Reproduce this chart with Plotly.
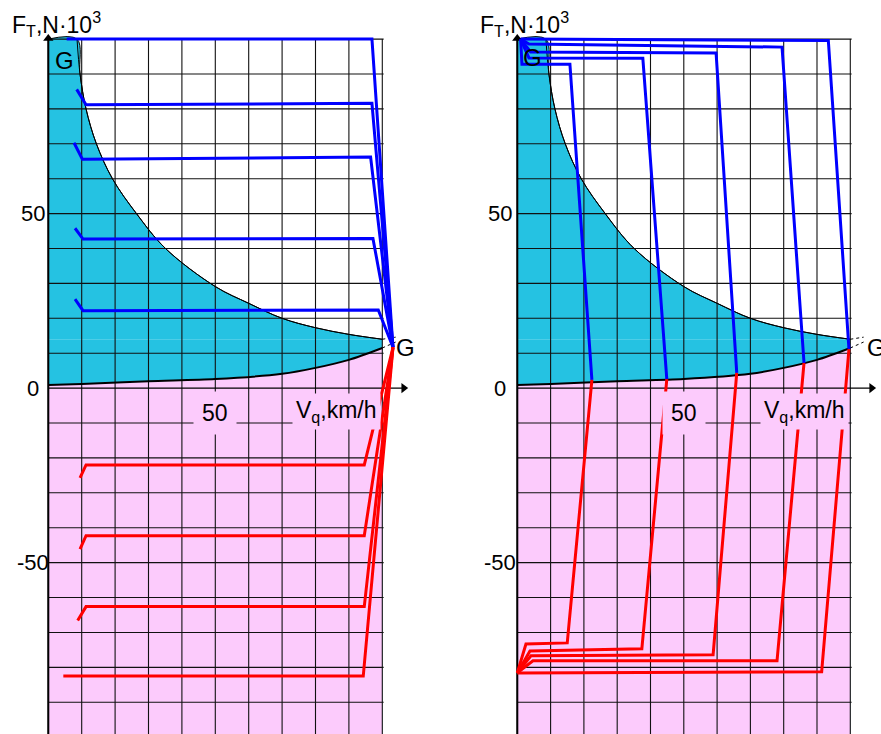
import plotly.graph_objects as go

# ---------------- data (v in km/h, F in N*10^3) ----------------
# traction limit curve (upper boundary of cyan zone)
upper_v = [8.6, 9.5, 11.3, 14.4, 19.2, 26.4, 35.1, 50.0, 60.0, 70.0, 80.0, 90.0, 100.0]
upper_F = [100.0, 90.0, 80.0, 70.0, 60.0, 50.0, 40.0, 29.1, 24.3, 20.0, 17.3, 15.4, 14.0]
# lower boundary curve (resistance)
lower_v = [0.0, 10.0, 30.0, 50.0, 70.0, 80.0, 90.0, 100.0]
lower_F = [0.9, 1.2, 2.0, 2.6, 4.1, 5.8, 8.1, 11.5]

# left panel, blue (traction) characteristics
left_blue_v = [
    [5.5, 96.9, 103.2],
    [8.5, 11.3, 96.9, 103.2],
    [7.7, 10.2, 96.5, 103.2],
    [8.0, 10.4, 97.2, 103.2],
    [8.0, 10.4, 98.8, 103.2],
]
left_blue_F = [
    [100.0, 100.0, 11.7],
    [85.6, 81.2, 81.6, 11.7],
    [70.3, 65.6, 66.2, 11.7],
    [45.8, 42.7, 42.9, 11.7],
    [25.5, 22.2, 22.4, 11.7],
]
# left panel, red (braking) characteristics
left_red_v = [
    [9.5, 11.3, 94.6, 103.2],
    [9.5, 11.3, 94.6, 103.2],
    [8.8, 11.3, 94.6, 103.2],
    [4.5, 94.3, 103.2],
]
left_red_F = [
    [-25.7, -22.0, -22.0, 11.7],
    [-46.1, -42.3, -42.3, 11.7],
    [-66.6, -62.6, -62.6, 11.7],
    [-82.5, -82.5, 11.7],
]
# right panel, blue characteristics
right_blue_v = [
    [1.0, 1.4, 15.8, 22.4],
    [1.0, 3.5, 37.7, 44.9],
    [1.0, 4.0, 59.7, 65.9],
    [1.0, 3.5, 79.5, 86.1],
    [1.0, 93.4, 99.6],
]
right_blue_F = [
    [100.0, 92.8, 92.8, 2.35],
    [100.0, 94.6, 94.5, 2.6],
    [100.0, 96.3, 96.0, 4.35],
    [100.0, 98.6, 97.7, 7.2],
    [100.0, 99.6, 11.2],
]
# right panel, red characteristics
right_red_v = [
    [22.4, 15.0, 2.6, 0.0],
    [44.9, 37.4, 3.8, 0.0],
    [65.9, 58.8, 4.1, 0.0],
    [86.1, 78.0, 4.7, 0.0],
    [99.6, 91.4, 0.0],
]
right_red_F = [
    [2.35, -73.0, -73.3, -81.6],
    [2.6, -74.7, -75.3, -81.6],
    [4.35, -76.4, -76.7, -81.6],
    [7.2, -78.1, -78.1, -81.6],
    [11.2, -81.3, -81.6],
]

grid_v = [0, 10, 20, 30, 40, 50, 60, 70, 80, 90, 100]
grid_F = [-90, -80, -70, -60, -50, -40, -30, -20, -10, 10, 20, 30, 40, 50, 60, 70, 80, 90, 100]
ytick_vals = [50, 0, -50]
ytick_text = ["50", "0", "-50"]
xtick_vals = [50]
xtick_text = ["50"]

F_MIN, F_MAX = -100.0, 100.0
V_MAX = 100.0

CYAN = "#25C2E2"
PINK = "#FCCBFC"
BLUE = "#0000FF"
RED = "#FF0000"
FONT = "Liberation Sans, Arial, sans-serif"

fig = go.Figure()


def add_panel(xa, ya, blue_v, blue_F, red_v, red_F):
    # cyan base block below the traction curve
    fig.add_trace(go.Scatter(x=[0, V_MAX, V_MAX, 0, 0], y=[F_MIN, F_MIN, upper_F[-1], upper_F[-1], F_MIN],
                             fill="toself", fillcolor=CYAN, mode="none",
                             xaxis=xa, yaxis=ya, hoverinfo="skip"))
    # cyan area left of the traction curve
    fig.add_trace(go.Scatter(x=[0.0] + upper_v, y=[F_MAX] + upper_F, fill="tozerox", fillcolor=CYAN,
                             mode="lines", line=dict(color="black", width=1, shape="spline", smoothing=1.0),
                             xaxis=xa, yaxis=ya, hoverinfo="skip"))
    # pink zone under lower curve
    px = lower_v + [V_MAX, 0.0, 0.0]
    py = lower_F + [F_MIN, F_MIN, lower_F[0]]
    fig.add_trace(go.Scatter(x=px, y=py, fill="toself", fillcolor=PINK, mode="none",
                             xaxis=xa, yaxis=ya, hoverinfo="skip"))
    # grid
    gx, gy = [], []
    for v in grid_v:
        gx += [v, v, None]
        gy += [F_MIN, F_MAX, None]
    for f in grid_F:
        gx += [0, V_MAX + 0.4, None]
        gy += [f, f, None]
    fig.add_trace(go.Scatter(x=gx, y=gy, mode="lines", line=dict(color="#111111", width=1.1),
                             xaxis=xa, yaxis=ya, hoverinfo="skip"))
    # boundary curves
    fig.add_trace(go.Scatter(x=upper_v, y=upper_F, mode="lines",
                             line=dict(color="black", width=1, shape="spline", smoothing=1.0),
                             xaxis=xa, yaxis=ya, hoverinfo="skip"))
    fig.add_trace(go.Scatter(x=lower_v, y=lower_F, mode="lines",
                             line=dict(color="black", width=2, shape="spline", smoothing=0.8),
                             xaxis=xa, yaxis=ya, hoverinfo="skip"))
    # small dotted leaders toward G
    fig.add_trace(go.Scatter(x=[upper_v[-1], 104.0, None, lower_v[-1], 104.0],
                             y=[upper_F[-1], 14.6, None, lower_F[-1], 13.2],
                             mode="lines", line=dict(color="black", width=1, dash="dot"),
                             xaxis=xa, yaxis=ya, hoverinfo="skip"))
    # axes
    fig.add_trace(go.Scatter(x=[0, 0], y=[F_MIN, 100.6], mode="lines", line=dict(color="black", width=2),
                             xaxis=xa, yaxis=ya, hoverinfo="skip"))
    fig.add_trace(go.Scatter(x=[0, 106.5], y=[0, 0], mode="lines", line=dict(color="black", width=1.3),
                             xaxis=xa, yaxis=ya, hoverinfo="skip"))
    fig.add_trace(go.Scatter(x=[0], y=[100.2], mode="markers",
                             marker=dict(symbol="triangle-up", size=9, color="black"),
                             cliponaxis=False, xaxis=xa, yaxis=ya, hoverinfo="skip"))
    fig.add_trace(go.Scatter(x=[106.4], y=[0], mode="markers",
                             marker=dict(symbol="triangle-right", size=9, color="black"),
                             cliponaxis=False, xaxis=xa, yaxis=ya, hoverinfo="skip"))
    # characteristics
    for vs, fs in zip(blue_v, blue_F):
        fig.add_trace(go.Scatter(x=vs, y=fs, mode="lines", line=dict(color=BLUE, width=3),
                                 xaxis=xa, yaxis=ya, hoverinfo="skip"))
    for vs, fs in zip(red_v, red_F):
        fig.add_trace(go.Scatter(x=vs, y=fs, mode="lines", line=dict(color=RED, width=3),
                                 xaxis=xa, yaxis=ya, hoverinfo="skip"))


add_panel("x", "y", left_blue_v, left_blue_F, left_red_v, left_red_F)
add_panel("x2", "y2", right_blue_v, right_blue_F, right_red_v, right_red_F)

W, H = 881, 734
annotations = []
for xr, yr, ytick_px, gtop, gright in [("x", "y", 33, (5.0, 93.8), (107.0, 11.7)),
                                       ("x2", "y2", 500, (4.7, 94.6), (107.8, 11.7))]:
    for val, txt in zip(ytick_vals, ytick_text):
        annotations.append(dict(x=ytick_px / W, y=val, xref="paper", yref=yr, text=txt, showarrow=False,
                                xanchor="center", yanchor="middle",
                                font=dict(family=FONT, size=22, color="black")))
    for val, txt in zip(xtick_vals, xtick_text):
        annotations.append(dict(x=val, y=-7.0, xref=xr, yref=yr, text=txt, showarrow=False,
                                xanchor="center", yanchor="middle", bgcolor=PINK, borderpad=8,
                                font=dict(family=FONT, size=23, color="black")))
    annotations.append(dict(x=86.3, y=-6.8, xref=xr, yref=yr, text="V<sub>q</sub>,km/h",
                            showarrow=False, xanchor="center", yanchor="middle",
                            bgcolor=PINK, borderpad=3,
                            font=dict(family=FONT, size=23, color="black")))
    annotations.append(dict(x=gtop[0], y=gtop[1], xref=xr, yref=yr, text="G", showarrow=False,
                            xanchor="center", yanchor="middle",
                            font=dict(family=FONT, size=24, color="black")))
    annotations.append(dict(x=gright[0], y=gright[1], xref=xr, yref=yr, text="G", showarrow=False,
                            xanchor="center", yanchor="middle",
                            font=dict(family=FONT, size=24, color="black")))

for xp in [10, 478]:
    annotations.append(dict(x=xp / W, y=1 - 24 / H, xref="paper", yref="paper",
                            text="F<sub>T</sub>,N·10<sup>3</sup>", showarrow=False,
                            xanchor="left", yanchor="middle",
                            font=dict(family=FONT, size=23, color="black")))

SX_L, SX_R = 3.34, 3.33
X0_L, X0_R = 48.3, 517.3
XR = [-0.8, 109.0]
YR = [-99.1, 111.2]


def dom(x0, s):
    return [(x0 + XR[0] * s) / W, min(1.0, (x0 + XR[1] * s) / W)]


axis_common = dict(showgrid=False, zeroline=False, showticklabels=False, showline=False, ticks="")
fig.update_layout(
    width=W, height=H,
    margin=dict(l=0, r=0, t=0, b=0),
    paper_bgcolor="white", plot_bgcolor="white",
    showlegend=False,
    xaxis=dict(domain=dom(X0_L, SX_L), range=XR, anchor="y", **axis_common),
    yaxis=dict(domain=[0, 1], range=YR, anchor="x", **axis_common),
    xaxis2=dict(domain=dom(X0_R, SX_R), range=XR, anchor="y2", **axis_common),
    yaxis2=dict(domain=[0, 1], range=YR, anchor="x2", **axis_common),
    annotations=annotations,
)

fig.write_html("out.html", config={"displayModeBar": False},
               post_script="document.body.style.margin='0px';document.body.style.overflow='hidden';")
